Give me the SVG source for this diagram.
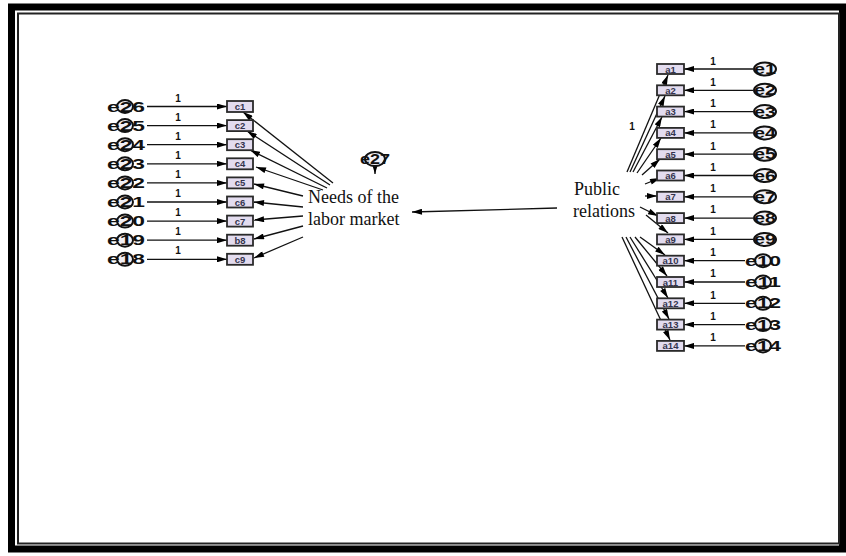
<svg xmlns="http://www.w3.org/2000/svg" width="846" height="556" viewBox="0 0 846 556">
<defs>
<marker id="ah" viewBox="0 0 10 6" refX="10" refY="3" markerWidth="11" markerHeight="6" markerUnits="userSpaceOnUse" orient="auto">
<path d="M0,0 L10,3 L0,6 Z" fill="#000"/>
</marker>
</defs>
<style>
.box{fill:#e3dcef;stroke:#2a2a2a;stroke-width:1.8}
.bt{font-family:"Liberation Sans",Arial,sans-serif;font-size:9.5px;font-weight:bold;fill:#34344e;text-anchor:middle}
.el{fill:#f2f0f6;stroke:#111;stroke-width:2}
.et{font-family:"Liberation Sans",Arial,sans-serif;font-size:14px;font-weight:bold;fill:#111;text-anchor:middle}
.one{font-family:"Liberation Sans",Arial,sans-serif;font-size:10px;font-weight:bold;fill:#111;text-anchor:middle}
.ln{stroke:#111;stroke-width:1.3;fill:none;marker-end:url(#ah)}
.lt{font-family:"Liberation Serif","Times New Roman",serif;font-size:18px;fill:#111}
</style>
<rect x="0" y="0" width="846" height="556" fill="#fff"/>
<rect x="11.5" y="7" width="831" height="542" fill="none" stroke="#000" stroke-width="7"/>
<rect x="18" y="13.5" width="821" height="530" fill="none" stroke="#222" stroke-width="2"/>

<g id="connectors">
<line class="ln" x1="147" y1="106.5" x2="227" y2="106.5"/>
<line class="ln" x1="147" y1="125.6" x2="227" y2="125.6"/>
<line class="ln" x1="147" y1="144.7" x2="227" y2="144.7"/>
<line class="ln" x1="147" y1="163.8" x2="227" y2="163.8"/>
<line class="ln" x1="147" y1="182.9" x2="227" y2="182.9"/>
<line class="ln" x1="147" y1="202" x2="227" y2="202"/>
<line class="ln" x1="147" y1="221.1" x2="227" y2="221.1"/>
<line class="ln" x1="147" y1="240.2" x2="227" y2="240.2"/>
<line class="ln" x1="147" y1="259.3" x2="227" y2="259.3"/>
<line class="ln" x1="333" y1="183" x2="243" y2="112"/>
<line class="ln" x1="330" y1="185" x2="247" y2="131"/>
<line class="ln" x1="327" y1="188" x2="250" y2="150"/>
<line class="ln" x1="323" y1="190" x2="256" y2="167"/>
<line class="ln" x1="303" y1="196" x2="254" y2="184"/>
<line class="ln" x1="303" y1="207" x2="254" y2="202"/>
<line class="ln" x1="303" y1="216" x2="254" y2="220"/>
<line class="ln" x1="303" y1="226" x2="254" y2="239"/>
<line class="ln" x1="303" y1="237" x2="254" y2="258"/>
<line class="ln" x1="557" y1="208" x2="412" y2="212"/>
<line class="ln" x1="627" y1="172" x2="668" y2="75"/>
<line class="ln" x1="630" y1="172" x2="665" y2="96"/>
<line class="ln" x1="633" y1="172" x2="662" y2="117"/>
<line class="ln" x1="637" y1="173" x2="661" y2="138"/>
<line class="ln" x1="642" y1="175" x2="660" y2="159"/>
<line class="ln" x1="645" y1="184" x2="660" y2="178"/>
<line class="ln" x1="645" y1="196" x2="657" y2="196"/>
<line class="ln" x1="640" y1="207" x2="658" y2="216"/>
<line class="ln" x1="646" y1="215" x2="668" y2="233"/>
<line class="ln" x1="640" y1="237" x2="665" y2="255"/>
<line class="ln" x1="635" y1="237" x2="667" y2="276"/>
<line class="ln" x1="630" y1="237" x2="668" y2="298"/>
<line class="ln" x1="626" y1="237" x2="669" y2="319"/>
<line class="ln" x1="622" y1="237" x2="670" y2="340"/>
<line class="ln" x1="753" y1="69" x2="684" y2="69"/>
<line class="ln" x1="753" y1="90.3" x2="684" y2="90.3"/>
<line class="ln" x1="753" y1="111.6" x2="684" y2="111.6"/>
<line class="ln" x1="753" y1="132.9" x2="684" y2="132.9"/>
<line class="ln" x1="753" y1="154.2" x2="684" y2="154.2"/>
<line class="ln" x1="753" y1="175.5" x2="684" y2="175.5"/>
<line class="ln" x1="753" y1="196.8" x2="684" y2="196.8"/>
<line class="ln" x1="753" y1="218.1" x2="684" y2="218.1"/>
<line class="ln" x1="753" y1="239.4" x2="684" y2="239.4"/>
<line class="ln" x1="745" y1="260.7" x2="684" y2="260.7"/>
<line class="ln" x1="745" y1="282" x2="684" y2="282"/>
<line class="ln" x1="745" y1="303.3" x2="684" y2="303.3"/>
<line class="ln" x1="745" y1="324.6" x2="684" y2="324.6"/>
<line class="ln" x1="745" y1="345.9" x2="684" y2="345.9"/>
<line class="ln" x1="375" y1="164" x2="375" y2="174"/>
</g>

<g id="loadings">
<text class="one" x="178" y="102">1</text>
<text class="one" x="178" y="121">1</text>
<text class="one" x="178" y="140">1</text>
<text class="one" x="178" y="159">1</text>
<text class="one" x="178" y="178">1</text>
<text class="one" x="178" y="197">1</text>
<text class="one" x="178" y="216">1</text>
<text class="one" x="178" y="235">1</text>
<text class="one" x="178" y="254">1</text>
<text class="one" x="713" y="65">1</text>
<text class="one" x="713" y="86">1</text>
<text class="one" x="713" y="107">1</text>
<text class="one" x="713" y="128">1</text>
<text class="one" x="713" y="150">1</text>
<text class="one" x="713" y="171">1</text>
<text class="one" x="713" y="192">1</text>
<text class="one" x="713" y="213">1</text>
<text class="one" x="713" y="235">1</text>
<text class="one" x="713" y="256">1</text>
<text class="one" x="713" y="277">1</text>
<text class="one" x="713" y="299">1</text>
<text class="one" x="713" y="320">1</text>
<text class="one" x="713" y="341">1</text>
<text class="one" x="632" y="130">1</text>
</g>

<g id="c-nodes">
<g id="c1"><rect class="box" x="227" y="101" width="26" height="11"/><text class="bt" x="240" y="110">c1</text></g>
<g id="c2"><rect class="box" x="227" y="120.1" width="26" height="11"/><text class="bt" x="240" y="129.1">c2</text></g>
<g id="c3"><rect class="box" x="227" y="139.2" width="26" height="11"/><text class="bt" x="240" y="148.2">c3</text></g>
<g id="c4"><rect class="box" x="227" y="158.3" width="26" height="11"/><text class="bt" x="240" y="167.3">c4</text></g>
<g id="c5"><rect class="box" x="227" y="177.4" width="26" height="11"/><text class="bt" x="240" y="186.4">c5</text></g>
<g id="c6"><rect class="box" x="227" y="196.5" width="26" height="11"/><text class="bt" x="240" y="205.5">c6</text></g>
<g id="c7"><rect class="box" x="227" y="215.6" width="26" height="11"/><text class="bt" x="240" y="224.6">c7</text></g>
<g id="b8"><rect class="box" x="227" y="234.7" width="26" height="11"/><text class="bt" x="240" y="243.7">b8</text></g>
<g id="c9"><rect class="box" x="227" y="253.8" width="26" height="11"/><text class="bt" x="240" y="262.8">c9</text></g>
</g>

<g id="left-errors">
<g id="e26"><ellipse class="el" cx="125" cy="106.5" rx="8" ry="6.5"/><text class="et" x="126" y="111.5" textLength="38" lengthAdjust="spacingAndGlyphs">e26</text></g>
<g id="e25"><ellipse class="el" cx="125" cy="125.6" rx="8" ry="6.5"/><text class="et" x="126" y="130.6" textLength="38" lengthAdjust="spacingAndGlyphs">e25</text></g>
<g id="e24"><ellipse class="el" cx="125" cy="144.7" rx="8" ry="6.5"/><text class="et" x="126" y="149.7" textLength="38" lengthAdjust="spacingAndGlyphs">e24</text></g>
<g id="e23"><ellipse class="el" cx="125" cy="163.8" rx="8" ry="6.5"/><text class="et" x="126" y="168.8" textLength="38" lengthAdjust="spacingAndGlyphs">e23</text></g>
<g id="e22"><ellipse class="el" cx="125" cy="182.9" rx="8" ry="6.5"/><text class="et" x="126" y="187.9" textLength="38" lengthAdjust="spacingAndGlyphs">e22</text></g>
<g id="e21"><ellipse class="el" cx="125" cy="202" rx="8" ry="6.5"/><text class="et" x="126" y="207" textLength="38" lengthAdjust="spacingAndGlyphs">e21</text></g>
<g id="e20"><ellipse class="el" cx="125" cy="221.1" rx="8" ry="6.5"/><text class="et" x="126" y="226.1" textLength="38" lengthAdjust="spacingAndGlyphs">e20</text></g>
<g id="e19"><ellipse class="el" cx="125" cy="240.2" rx="8" ry="6.5"/><text class="et" x="126" y="245.2" textLength="38" lengthAdjust="spacingAndGlyphs">e19</text></g>
<g id="e18"><ellipse class="el" cx="125" cy="259.3" rx="8" ry="6.5"/><text class="et" x="126" y="264.3" textLength="38" lengthAdjust="spacingAndGlyphs">e18</text></g>
</g>

<g id="needs">
<text class="lt" x="308" y="203">Needs of the</text>
<text class="lt" x="308" y="225">labor market</text>
</g>

<g id="e27"><ellipse class="el" cx="375" cy="159" rx="10" ry="7"/><text class="et" x="375" y="164" textLength="30" lengthAdjust="spacingAndGlyphs">e27</text></g>

<g id="public">
<text class="lt" x="574" y="195">Public</text>
<text class="lt" x="573" y="217">relations</text>
</g>

<g id="a-nodes">
<g id="a1"><rect class="box" x="657" y="64" width="27" height="10"/><text class="bt" x="670.5" y="72.5">a1</text></g>
<g id="a2"><rect class="box" x="657" y="85.3" width="27" height="10"/><text class="bt" x="670.5" y="93.8">a2</text></g>
<g id="a3"><rect class="box" x="657" y="106.6" width="27" height="10"/><text class="bt" x="670.5" y="115.1">a3</text></g>
<g id="a4"><rect class="box" x="657" y="127.9" width="27" height="10"/><text class="bt" x="670.5" y="136.4">a4</text></g>
<g id="a5"><rect class="box" x="657" y="149.2" width="27" height="10"/><text class="bt" x="670.5" y="157.7">a5</text></g>
<g id="a6"><rect class="box" x="657" y="170.5" width="27" height="10"/><text class="bt" x="670.5" y="179">a6</text></g>
<g id="a7"><rect class="box" x="657" y="191.8" width="27" height="10"/><text class="bt" x="670.5" y="200.3">a7</text></g>
<g id="a8"><rect class="box" x="657" y="213.1" width="27" height="10"/><text class="bt" x="670.5" y="221.6">a8</text></g>
<g id="a9"><rect class="box" x="657" y="234.4" width="27" height="10"/><text class="bt" x="670.5" y="242.9">a9</text></g>
<g id="a10"><rect class="box" x="657" y="255.7" width="27" height="10"/><text class="bt" x="670.5" y="264.2">a10</text></g>
<g id="a11"><rect class="box" x="657" y="277" width="27" height="10"/><text class="bt" x="670.5" y="285.5">a11</text></g>
<g id="a12"><rect class="box" x="657" y="298.3" width="27" height="10"/><text class="bt" x="670.5" y="306.8">a12</text></g>
<g id="a13"><rect class="box" x="657" y="319.6" width="27" height="10"/><text class="bt" x="670.5" y="328.1">a13</text></g>
<g id="a14"><rect class="box" x="657" y="340.9" width="27" height="10"/><text class="bt" x="670.5" y="349.4">a14</text></g>
</g>

<g id="right-errors">
<g id="e1"><ellipse class="el" cx="765" cy="69" rx="11" ry="6.5"/><text class="et" x="765" y="74" textLength="22" lengthAdjust="spacingAndGlyphs">e1</text></g>
<g id="e2"><ellipse class="el" cx="765" cy="90.3" rx="11" ry="6.5"/><text class="et" x="765" y="95.3" textLength="22" lengthAdjust="spacingAndGlyphs">e2</text></g>
<g id="e3"><ellipse class="el" cx="765" cy="111.6" rx="11" ry="6.5"/><text class="et" x="765" y="116.6" textLength="22" lengthAdjust="spacingAndGlyphs">e3</text></g>
<g id="e4"><ellipse class="el" cx="765" cy="132.9" rx="11" ry="6.5"/><text class="et" x="765" y="137.9" textLength="22" lengthAdjust="spacingAndGlyphs">e4</text></g>
<g id="e5"><ellipse class="el" cx="765" cy="154.2" rx="11" ry="6.5"/><text class="et" x="765" y="159.2" textLength="22" lengthAdjust="spacingAndGlyphs">e5</text></g>
<g id="e6"><ellipse class="el" cx="765" cy="175.5" rx="11" ry="6.5"/><text class="et" x="765" y="180.5" textLength="22" lengthAdjust="spacingAndGlyphs">e6</text></g>
<g id="e7"><ellipse class="el" cx="765" cy="196.8" rx="11" ry="6.5"/><text class="et" x="765" y="201.8" textLength="22" lengthAdjust="spacingAndGlyphs">e7</text></g>
<g id="e8"><ellipse class="el" cx="765" cy="218.1" rx="11" ry="6.5"/><text class="et" x="765" y="223.1" textLength="22" lengthAdjust="spacingAndGlyphs">e8</text></g>
<g id="e9"><ellipse class="el" cx="765" cy="239.4" rx="11" ry="6.5"/><text class="et" x="765" y="244.4" textLength="22" lengthAdjust="spacingAndGlyphs">e9</text></g>
<g id="e10"><ellipse class="el" cx="763" cy="260.7" rx="8" ry="6.5"/><text class="et" x="763" y="265.7" textLength="36" lengthAdjust="spacingAndGlyphs">e10</text></g>
<g id="e11"><ellipse class="el" cx="763" cy="282" rx="8" ry="6.5"/><text class="et" x="763" y="287" textLength="36" lengthAdjust="spacingAndGlyphs">e11</text></g>
<g id="e12"><ellipse class="el" cx="763" cy="303.3" rx="8" ry="6.5"/><text class="et" x="763" y="308.3" textLength="36" lengthAdjust="spacingAndGlyphs">e12</text></g>
<g id="e13"><ellipse class="el" cx="763" cy="324.6" rx="8" ry="6.5"/><text class="et" x="763" y="329.6" textLength="36" lengthAdjust="spacingAndGlyphs">e13</text></g>
<g id="e14"><ellipse class="el" cx="763" cy="345.9" rx="8" ry="6.5"/><text class="et" x="763" y="350.9" textLength="36" lengthAdjust="spacingAndGlyphs">e14</text></g>
</g>
</svg>
